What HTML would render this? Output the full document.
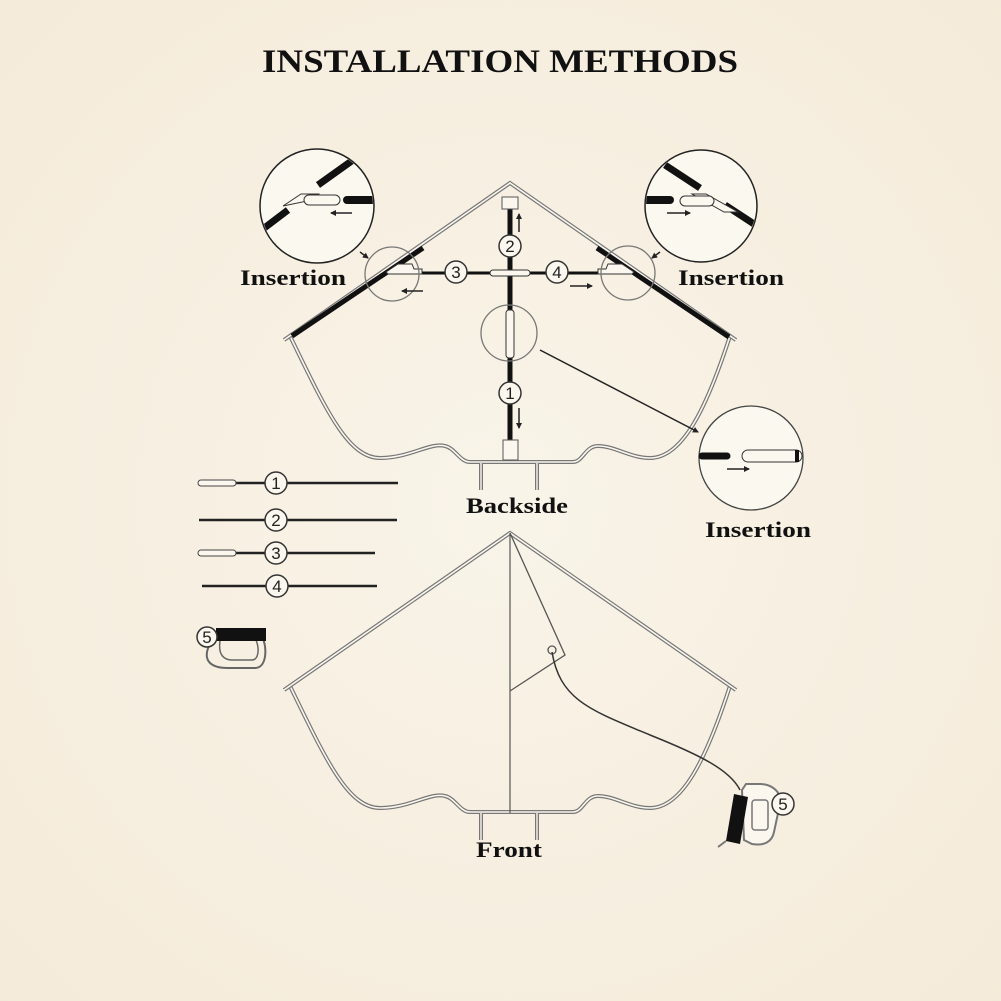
<!DOCTYPE html>
<html><head><meta charset="utf-8"><style>
html,body{margin:0;padding:0;background:#f7f0e2;}
svg{display:block}
text{font-family:"Liberation Serif",serif;font-weight:bold;fill:#111}
.n{font-family:"Liberation Sans",sans-serif;font-weight:normal;font-size:17px;fill:#222}
.lb{font-size:22px}
</style></head><body>
<svg width="1001" height="1001" viewBox="0 0 1001 1001" xmlns="http://www.w3.org/2000/svg">
<defs>
<radialGradient id="bg" cx="50%" cy="50%" r="75%"><stop offset="0" stop-color="#f9f4e9"/><stop offset="1" stop-color="#f4ead8"/></radialGradient>
<marker id="ah" markerWidth="6" markerHeight="6" refX="5" refY="3" orient="auto" markerUnits="userSpaceOnUse"><path d="M0,0 L6,3 L0,6 z" fill="#222"/></marker>
<g id="kite">
<path d="M290,686 C 326,760 348,808 380,808 C 410,808 430,792 445,796 C 455,798 460,812 470,812 L 573,812 C 583,812 585,796 598,796 C 615,796 630,808 650,808 C 682,808 706,760 730,686" fill="none" stroke="#777" stroke-width="4"/>
<path d="M290,686 C 326,760 348,808 380,808 C 410,808 430,792 445,796 C 455,798 460,812 470,812 L 573,812 C 583,812 585,796 598,796 C 615,796 630,808 650,808 C 682,808 706,760 730,686" fill="none" stroke="#fbf7ee" stroke-width="1.6"/>
<path d="M284,690 L510,533 L736,690" fill="none" stroke="#777" stroke-width="4"/>
<path d="M284,690 L510,533 L736,690" fill="none" stroke="#fbf7ee" stroke-width="1.6"/>
<path d="M481,813 V840 M537,813 V840" stroke="#777" stroke-width="4"/>
<path d="M481,813 V840 M537,813 V840" stroke="#fbf7ee" stroke-width="1.4"/>
</g>
</defs>
<rect width="1001" height="1001" fill="url(#bg)"/>
<text x="500" y="72" text-anchor="middle" font-size="33" textLength="476" lengthAdjust="spacingAndGlyphs">INSTALLATION METHODS</text>

<g transform="translate(0,-350)"><use href="#kite"/></g>
<g stroke="#111" stroke-linecap="butt" fill="none">
<line x1="292" y1="336" x2="423" y2="248" stroke-width="5"/>
<line x1="597" y1="248" x2="729" y2="337" stroke-width="5"/>
<line x1="510" y1="208" x2="510" y2="445" stroke-width="5"/>
<line x1="398" y1="273" x2="622" y2="273" stroke-width="3"/>
</g>
<rect x="502" y="197" width="16" height="12" fill="#fbf7ee" stroke="#555"/>
<rect x="503" y="440" width="15" height="20" fill="#fbf7ee" stroke="#555"/>
<rect x="506" y="310" width="8" height="48" rx="3" fill="#fbf7ee" stroke="#333"/>
<rect x="490" y="270" width="40" height="6" rx="3" fill="#fbf7ee" stroke="#333"/>
<path d="M386,272 l12,-8 h14 l2,5 h8 v5 h-34z" fill="#fbf7ee" stroke="#333"/>
<path d="M634,272 l-12,-8 h-14 l-2,5 h-8 v5 h34z" fill="#fbf7ee" stroke="#333"/>
<g fill="none" stroke="#777" stroke-width="1.3">
<circle cx="392" cy="274" r="27"/><circle cx="628" cy="273" r="27"/><circle cx="509" cy="333" r="28"/>
</g>
<g stroke="#222" stroke-width="1.5" fill="none" marker-end="url(#ah)">
<line x1="423" y1="291" x2="402" y2="291"/>
<line x1="570" y1="286" x2="592" y2="286"/>
<line x1="519" y1="232" x2="519" y2="214"/>
<line x1="519" y1="408" x2="519" y2="428"/>
<line x1="360" y1="252" x2="368" y2="258"/>
<line x1="660" y1="252" x2="652" y2="258"/>
<line x1="540" y1="350" x2="698" y2="432"/>
</g>
<g fill="#fbf7ee" stroke="#333" stroke-width="1.5">
<circle cx="510" cy="246" r="11"/><circle cx="456" cy="272" r="11"/><circle cx="557" cy="272" r="11"/><circle cx="510" cy="393" r="11"/>
</g>
<text class="n" x="510" y="252" text-anchor="middle">2</text><text class="n" x="456" y="278" text-anchor="middle">3</text><text class="n" x="557" y="278" text-anchor="middle">4</text><text class="n" x="510" y="399" text-anchor="middle">1</text>

<circle cx="317" cy="206" r="57" fill="#fbf8f0" stroke="#222" stroke-width="1.5"/>
<clipPath id="c1"><circle cx="317" cy="206" r="56"/></clipPath>
<g clip-path="url(#c1)">
<line x1="255" y1="235" x2="288" y2="210" stroke="#111" stroke-width="7"/>
<line x1="318" y1="185" x2="360" y2="155" stroke="#111" stroke-width="7"/>
<path d="M283,206 l18,-12 h18 l-2,5 z" fill="#fbf8f0" stroke="#333"/>
<rect x="304" y="195" width="36" height="10" rx="5" fill="#fbf8f0" stroke="#333"/>
<line x1="347" y1="200" x2="380" y2="200" stroke="#111" stroke-width="8" stroke-linecap="round"/>
<line x1="352" y1="213" x2="331" y2="213" stroke="#222" stroke-width="1.5" marker-end="url(#ah)"/>
</g>
<circle cx="701" cy="206" r="56" fill="#fbf8f0" stroke="#222" stroke-width="1.5"/>
<clipPath id="c2"><circle cx="701" cy="206" r="55"/></clipPath>
<g clip-path="url(#c2)">
<line x1="665" y1="165" x2="700" y2="188" stroke="#111" stroke-width="7"/>
<line x1="725" y1="205" x2="760" y2="228" stroke="#111" stroke-width="7"/>
<path d="M692,194 h14 l32,18 h-14 z" fill="#fbf8f0" stroke="#333"/>
<rect x="680" y="196" width="34" height="10" rx="5" fill="#fbf8f0" stroke="#333"/>
<line x1="640" y1="200" x2="670" y2="200" stroke="#111" stroke-width="8" stroke-linecap="round"/>
<line x1="667" y1="213" x2="690" y2="213" stroke="#222" stroke-width="1.5" marker-end="url(#ah)"/>
</g>
<circle cx="751" cy="458" r="52" fill="#fbf8f0" stroke="#444" stroke-width="1.3"/>
<line x1="702" y1="456" x2="727" y2="456" stroke="#111" stroke-width="7" stroke-linecap="round"/>
<rect x="742" y="450" width="60" height="12" rx="6" fill="#fbf8f0" stroke="#333"/>
<line x1="797" y1="450" x2="797" y2="462" stroke="#111" stroke-width="4"/>
<line x1="727" y1="469" x2="749" y2="469" stroke="#222" stroke-width="1.5" marker-end="url(#ah)"/>

<text class="lb" x="293" y="285" text-anchor="middle" textLength="106" lengthAdjust="spacingAndGlyphs">Insertion</text>
<text class="lb" x="731" y="285" text-anchor="middle" textLength="106" lengthAdjust="spacingAndGlyphs">Insertion</text>
<text class="lb" x="758" y="537" text-anchor="middle" textLength="106" lengthAdjust="spacingAndGlyphs">Insertion</text>
<text class="lb" x="517" y="513" text-anchor="middle" textLength="102" lengthAdjust="spacingAndGlyphs">Backside</text>

<g stroke="#222" stroke-width="2.5">
<line x1="234" y1="483" x2="398" y2="483"/>
<line x1="199" y1="520" x2="397" y2="520"/>
<line x1="234" y1="553" x2="375" y2="553"/>
<line x1="202" y1="586" x2="377" y2="586"/>
</g>
<rect x="198" y="480" width="38" height="6" rx="3" fill="#fbf7ee" stroke="#444"/>
<rect x="198" y="550" width="38" height="6" rx="3" fill="#fbf7ee" stroke="#444"/>
<g fill="#fbf7ee" stroke="#333" stroke-width="1.5">
<circle cx="276" cy="483" r="11"/><circle cx="276" cy="520" r="11"/><circle cx="276" cy="553" r="11"/><circle cx="277" cy="586" r="11"/>
</g>
<text class="n" x="276" y="489" text-anchor="middle">1</text>
<text class="n" x="276" y="526" text-anchor="middle">2</text>
<text class="n" x="276" y="559" text-anchor="middle">3</text>
<text class="n" x="277" y="592" text-anchor="middle">4</text>
<path d="M212,640 C200,660 210,668 228,668 H255 C266,668 268,650 262,636" fill="none" stroke="#666" stroke-width="2"/>
<path d="M220,641 C218,655 224,660 232,660 H252 C258,660 260,650 256,640" fill="none" stroke="#666" stroke-width="1.5"/>
<rect x="216" y="628" width="50" height="13" fill="#111"/>
<circle cx="207" cy="637" r="10" fill="#fbf7ee" stroke="#333" stroke-width="1.5"/>
<text class="n" x="207" y="643" text-anchor="middle">5</text>

<use href="#kite"/>
<line x1="510" y1="533" x2="510" y2="813" stroke="#555" stroke-width="1.2"/>
<path d="M510,533 L565,655 L510,691" fill="none" stroke="#555" stroke-width="1.3"/>
<circle cx="552" cy="650" r="4" fill="none" stroke="#555" stroke-width="1.3"/>
<path d="M552,652 C560,700 590,710 650,735 C700,755 730,770 740,790" fill="none" stroke="#333" stroke-width="1.5"/>
<path d="M742,790 l4,-6 h14 c12,0 22,8 20,20 l-6,28 c-2,10 -10,14 -22,12 l-8,-4 z" fill="#fbf7ee" stroke="#777" stroke-width="2"/>
<rect x="752" y="800" width="16" height="30" rx="3" fill="none" stroke="#777" stroke-width="1.5"/>
<polygon points="734,794 748,797 740,844 726,841" fill="#111"/>
<path d="M726,841 l-8,6" stroke="#777" stroke-width="2"/>
<circle cx="783" cy="804" r="11" fill="#fbf7ee" stroke="#333" stroke-width="1.5"/>
<text class="n" x="783" y="810" text-anchor="middle">5</text>
<text class="lb" x="509" y="857" text-anchor="middle" textLength="66" lengthAdjust="spacingAndGlyphs">Front</text>
</svg>
</body></html>
